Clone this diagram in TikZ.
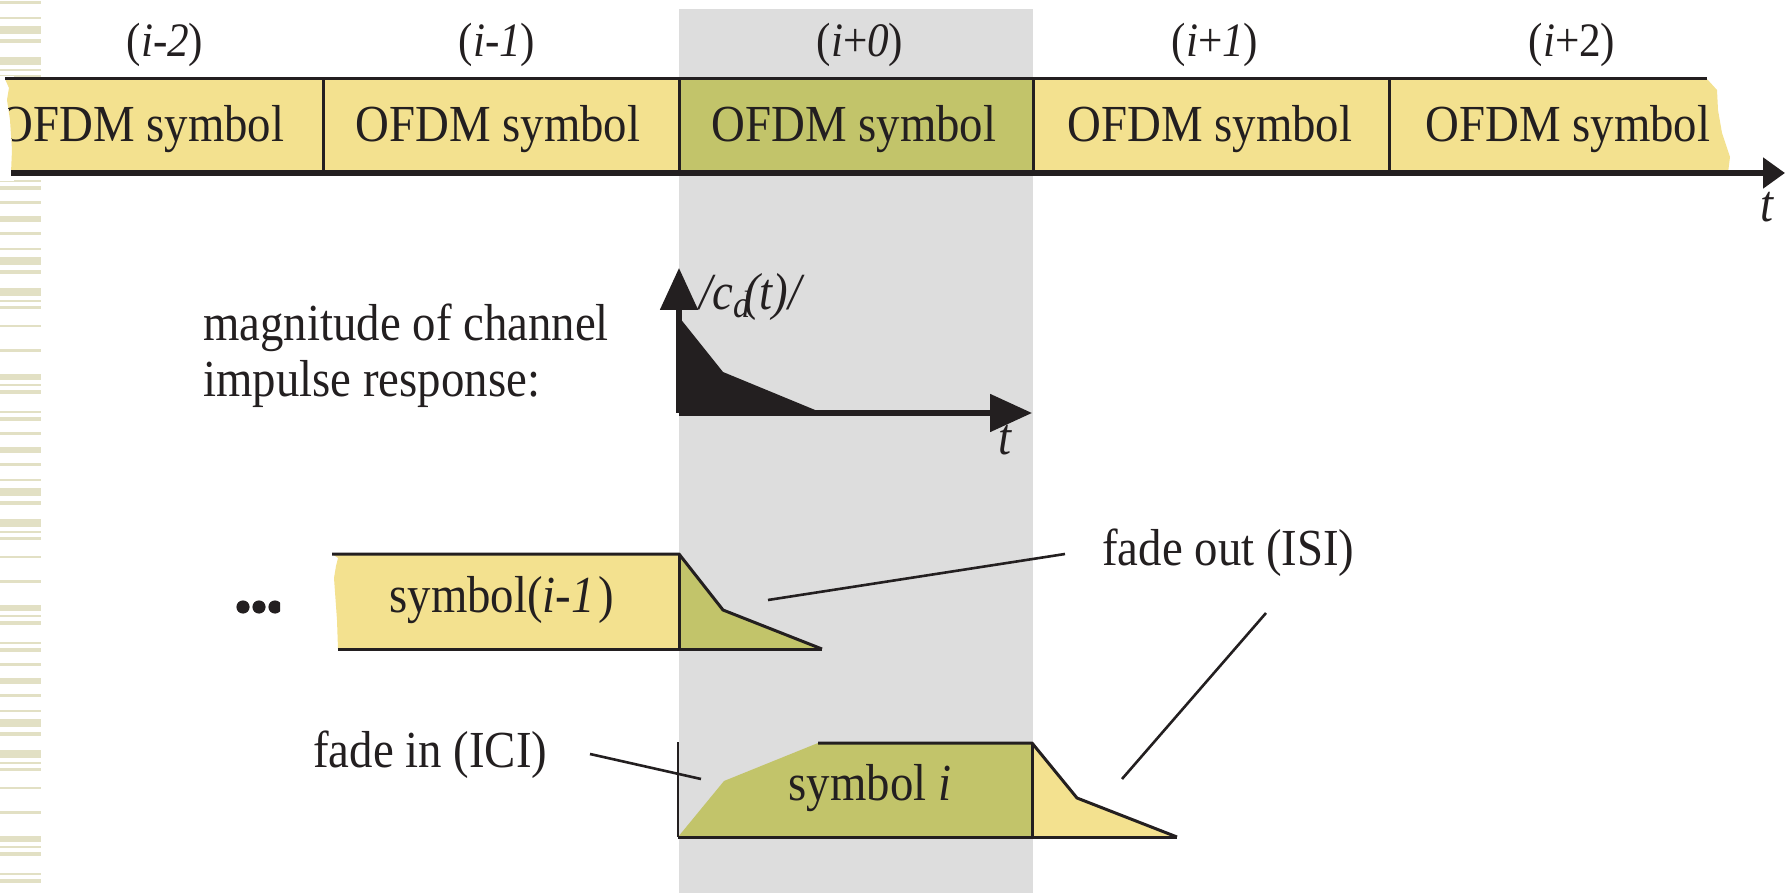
\documentclass[tikz,border=0pt]{standalone}
\usepackage{fontspec}
\setmainfont[FakeStretch=0.9]{Liberation Serif}
\usetikzlibrary{arrows.meta}
\definecolor{ylw}{RGB}{243,225,143}
\definecolor{olv}{RGB}{194,196,106}
\definecolor{band}{RGB}{221,221,221}
\definecolor{ink}{RGB}{35,31,32}
\definecolor{stripe}{RGB}{226,224,196}
\begin{document}
\begin{tikzpicture}[x=0.5pt,y=-0.5pt,
  txt/.style={inner sep=0pt, text=ink, font=\fontsize{26}{30}\selectfont},
  lbl/.style={inner sep=0pt, text=ink, font=\fontsize{24}{28}\selectfont},
  edge/.style={draw=ink, line width=1.5pt, line join=bevel},
  thinedge/.style={draw=ink, line width=0.6pt},
  axisline/.style={draw=ink, line width=2.6pt},
  leader/.style={draw=ink, line width=1.3pt},
  bigtip/.style={-{Triangle[length=21pt,width=18.5pt]}},
  smalltip/.style={-{Triangle[length=11pt,width=15pt]}},
]
\useasboundingbox (0,0) rectangle (1785,893);
% decorative stripes at the left edge
\foreach \k in {0,...,4}{
  \foreach \a/\b in {0/8,12/14,18/21,37/39,61/64,86/92,96/98,102/106,123/125,129/133,144/147,159/165,175/178,191/193,200/208,213/217}{
    \fill[stripe] (0,{-174+231*\k+\a}) rectangle (41,{-174+231*\k+\b});
  }
}
\fill[white] (0,76) rectangle (14,181);
% grey band
\fill[band] (679,9) rectangle (1033,893);
% ---------------- top row ----------------
\fill[ylw] (5,79) -- (1707,79) -- (1717,90) -- (1718,110) -- (1722,133) -- (1730,157) -- (1728,173)
  -- (11,173) -- (12,150) -- (10,120) -- (7,100) -- (9,88) -- cycle;
\fill[olv] (679,79) rectangle (1033,173);
\draw[edge] (5,79) -- (1707,79);
\foreach \xx in {323,679,1033,1389} \draw[edge] (\xx,79) -- (\xx,173);
\coordinate (axstart) at (11,173);
\coordinate (axend) at (1785,173);
\draw[axisline, smalltip] (axstart) -- (axend);
\node[txt, anchor=base] (taxis) at (1767,222) {\textit{t}};

\node[lbl, anchor=base] (lm2) at (165,57) {(\textit{i-2})};
\node[lbl, anchor=base] (lm1) at (497,57) {(\textit{i-1})};
\node[lbl, anchor=base] (l0)  at (860,57) {(\textit{i}+\textit{0})};
\node[lbl, anchor=base] (lp1) at (1215,57) {(\textit{i}+\textit{1})};
\node[lbl, anchor=base] (lp2) at (1572,57) {(\textit{i}+2)};

\begin{scope}
  \clip (5,79) -- (1707,79) -- (1717,90) -- (1718,110) -- (1722,133) -- (1730,157) -- (1728,173)
  -- (11,173) -- (12,150) -- (10,120) -- (7,100) -- (9,88) -- cycle;
  \node[txt, anchor=base] (s1) at (142,142) {OFDM symbol};
\end{scope}
\node[txt, anchor=base] (s2) at (498,142) {OFDM symbol};
\node[txt, anchor=base] (s3) at (854,142) {OFDM symbol};
\node[txt, anchor=base] (s4) at (1210,142) {OFDM symbol};
\node[txt, anchor=base] (s5) at (1568,142) {OFDM symbol};

% ---------------- channel impulse response ----------------
\node[txt, anchor=base west, align=left] (mag1) at (203,341) {magnitude of channel};
\node[txt, anchor=base west, align=left] (mag2) at (203,397) {impulse response:};
\fill[ink] (679,317) -- (723,372) -- (820,412) -- (820,413) -- (679,413) -- cycle;
\coordinate (origin) at (679,413);
\coordinate (ytip) at (679,268);
\coordinate (xtip) at (1032,413);
\draw[axisline, bigtip] (origin) -- (ytip);
\draw[axisline, bigtip] (origin) -- (xtip);
\node[txt, anchor=base west] (cd) at (699,310) {\itshape /c\raisebox{-0.15em}{\fontsize{19}{20}\selectfont d}\kern-0.12em(t)/};
\node[txt, anchor=base] (tax2) at (1005,455) {\textit{t}};

% ---------------- symbol (i-1) ----------------
\fill[ink] (243,607) circle[radius=3.3pt];
\fill[ink] (259,607) circle[radius=3.3pt];
\begin{scope}
  \clip (230,590) rectangle (280,625);
  \fill[ink] (275,607) circle[radius=3.3pt];
\end{scope}
\fill[ylw] (332,554) -- (679,554) -- (679,649) -- (338,649) -- (337,620) -- (334,578) -- (336,566) -- (338,558) -- cycle;
\fill[olv] (679,554) -- (723,610) -- (822,649) -- (679,649) -- cycle;
\draw[edge] (332,554) -- (679,554) -- (723,610) -- (822,649);
\draw[edge] (338,649) -- (822,649);
\draw[edge] (679,554) -- (679,649);
\node[txt, anchor=base] (sym1) at (502,612) {symbol(\textit{i-1}\kern0.08em)};

% ---------------- symbol i ----------------
\fill[olv] (678,837) -- (724,781) -- (818,743) -- (1032,743) -- (1032,837) -- cycle;
\fill[ylw] (1032,743) -- (1077,798) -- (1177,837) -- (1032,837) -- cycle;
\draw[thinedge] (678,742) -- (678,837);
\draw[edge] (818,743) -- (1032,743) -- (1077,798) -- (1177,837);
\draw[edge] (678,837) -- (1177,837);
\draw[edge] (1032,743) -- (1032,837);
\node[txt, anchor=base] (symi) at (870,800) {symbol \textit{i}};

% ---------------- annotations ----------------
\node[txt, anchor=base west] (fout) at (1102,565) {fade out (ISI)};
\node[txt, anchor=base west] (fin) at (313,767) {fade in (ICI)};
\coordinate (fo1a) at (1065,554);
\coordinate (fo1b) at (768,600);
\coordinate (fo2a) at (1266,613);
\coordinate (fo2b) at (1122,779);
\coordinate (fi1a) at (590,754);
\coordinate (fi1b) at (701,779);
\draw[leader] (fo1a) -- (fo1b);
\draw[leader] (fo2a) -- (fo2b);
\draw[leader] (fi1a) -- (fi1b);
\end{tikzpicture}
\end{document}
